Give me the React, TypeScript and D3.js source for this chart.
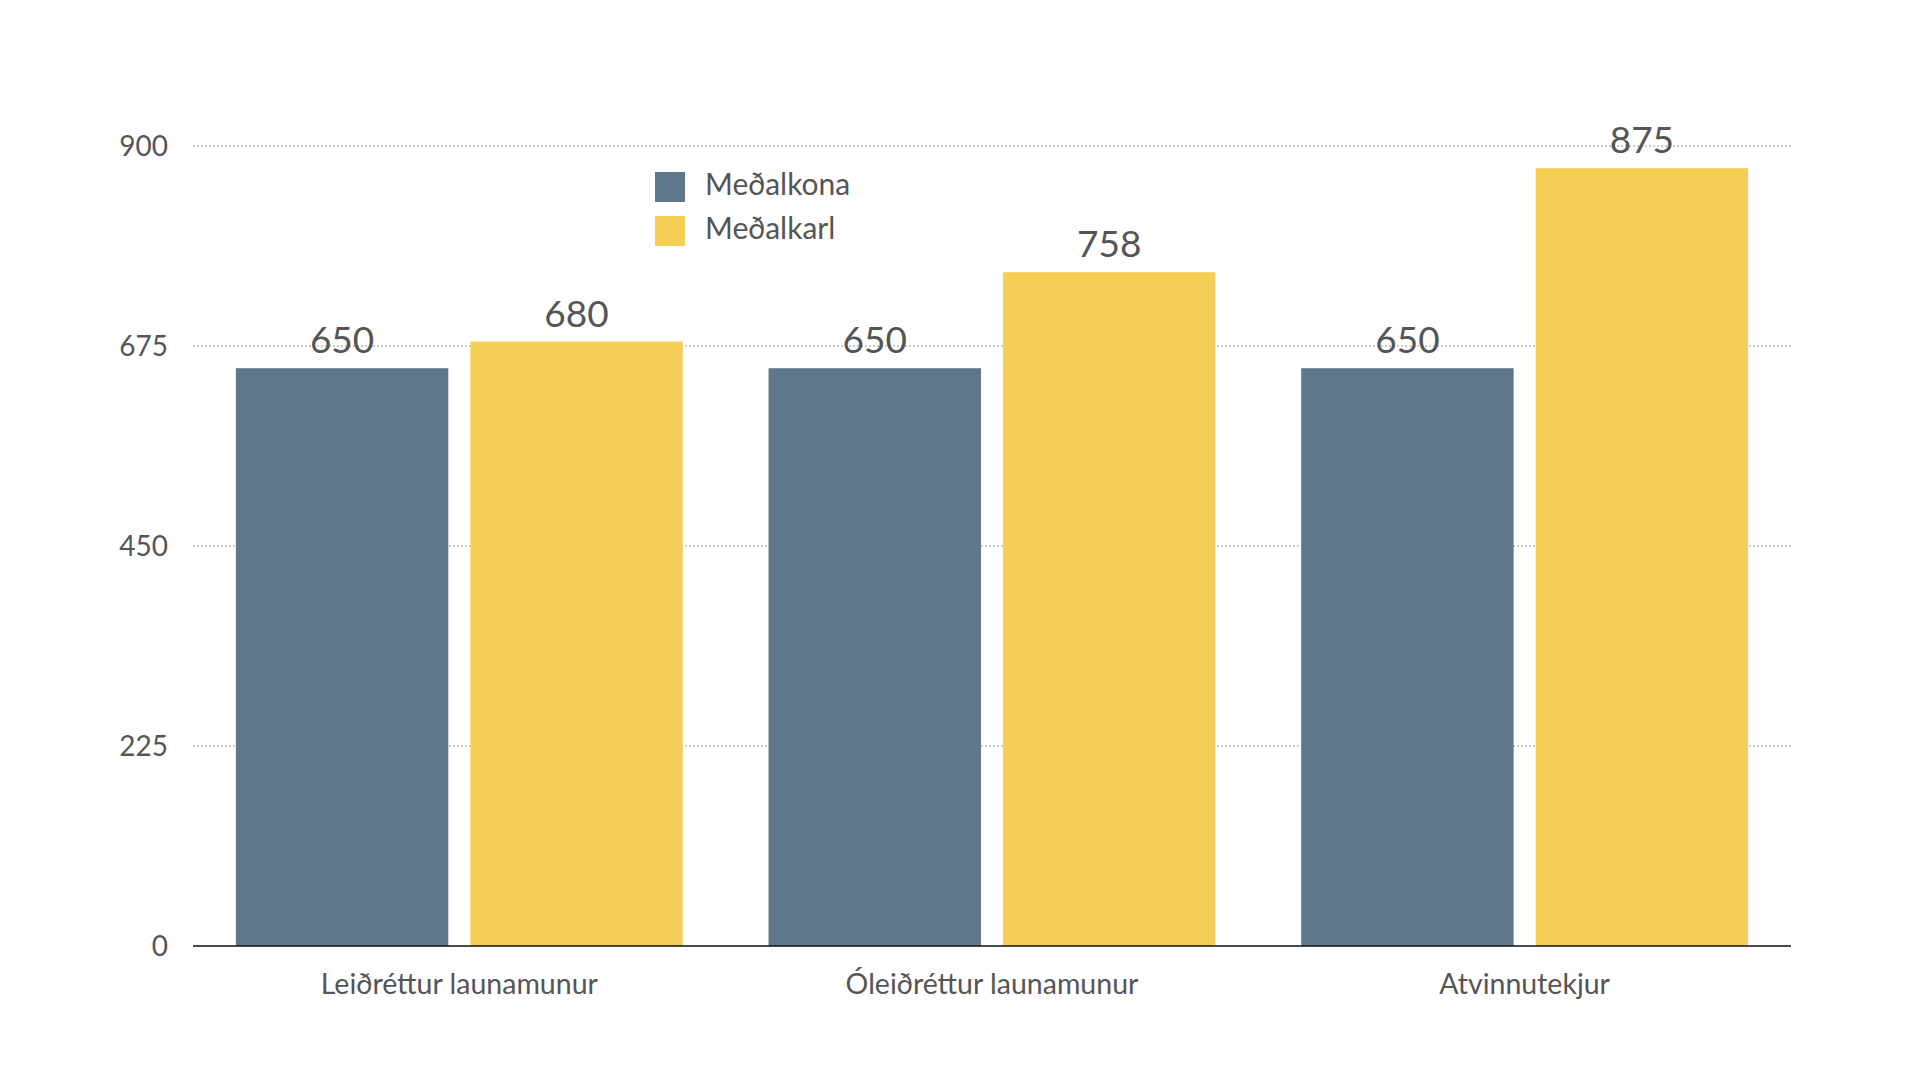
import * as d3 from "d3"

const categories = ["Leiðréttur launamunur", "Óleiðréttur launamunur", "Atvinnutekjur"]
const seriesNames = ["Meðalkona", "Meðalkarl"]
const womenValues = [650, 650, 650]
const menValues = [680, 758, 875]
const yTicks = [0, 225, 450, 675, 900]

const colors = ["#5f778a", "#f5cf55"]
const textColor = "#555555"
const font = "Lato, 'Noto Sans', sans-serif"

export default function App() {
  const width = 1920
  const height = 1080
  const left = 193
  const right = 1791
  const top = 146
  const bottom = 946

  const y = d3.scaleLinear().domain([0, 900]).range([bottom, top])
  const x0 = d3.scaleBand<string>().domain(categories).range([left, right]).paddingInner(0.161).paddingOuter(0.0805)
  const x1 = d3
    .scaleBand<string>()
    .domain(seriesNames)
    .range([0, x0.bandwidth()])
    .paddingInner(0.094)

  const series = [womenValues, menValues]

  return (
    <svg
      width={width}
      height={height}
      style={{ position: "absolute", left: 0, top: 0, background: "#fff" }}
      fontFamily={font}
    >
      {/* grid */}
      {yTicks
        .filter((t) => t > 0)
        .map((t) => (
          <line
            key={t}
            x1={left}
            x2={right}
            y1={y(t)}
            y2={y(t)}
            stroke="#9a9a9a"
            strokeWidth={1}
            strokeDasharray="2,2"
          />
        ))}
      {yTicks.map((t) => (
        <text
          key={"l" + t}
          x={168}
          y={y(t)}
          dy="0.36em"
          textAnchor="end"
          fontSize={28}
          fill={textColor}
        >
          {t}
        </text>
      ))}

      {/* bars */}
      {categories.map((c, i) => (
        <g key={c} transform={`translate(${x0(c)},0)`}>
          {seriesNames.map((s, j) => {
            const v = series[j][i]
            const bx = x1(s) as number
            return (
              <g key={s}>
                <rect x={bx} y={y(v)} width={x1.bandwidth()} height={bottom - y(v)} fill={colors[j]} />
                <text
                  x={bx + x1.bandwidth() / 2}
                  y={y(v) - 15}
                  textAnchor="middle"
                  fontSize={37}
                  fill={textColor}
                >
                  {v}
                </text>
              </g>
            )
          })}
          <text
            x={x0.bandwidth() / 2}
            y={994}
            textAnchor="middle"
            fontSize={28.5}
            fill={textColor}
          >
            {c}
          </text>
        </g>
      ))}

      {/* axis */}
      <line x1={left} x2={right} y1={bottom} y2={bottom} stroke="#111" strokeWidth={1.5} />

      {/* legend */}
      {seriesNames.map((s, j) => (
        <g key={s} transform={`translate(655,${172 + j * 44})`}>
          <rect width={30} height={30} fill={colors[j]} />
          <text x={50} y={23} fontSize={30} fill={textColor}>
            {s}
          </text>
        </g>
      ))}
    </svg>
  )
}
